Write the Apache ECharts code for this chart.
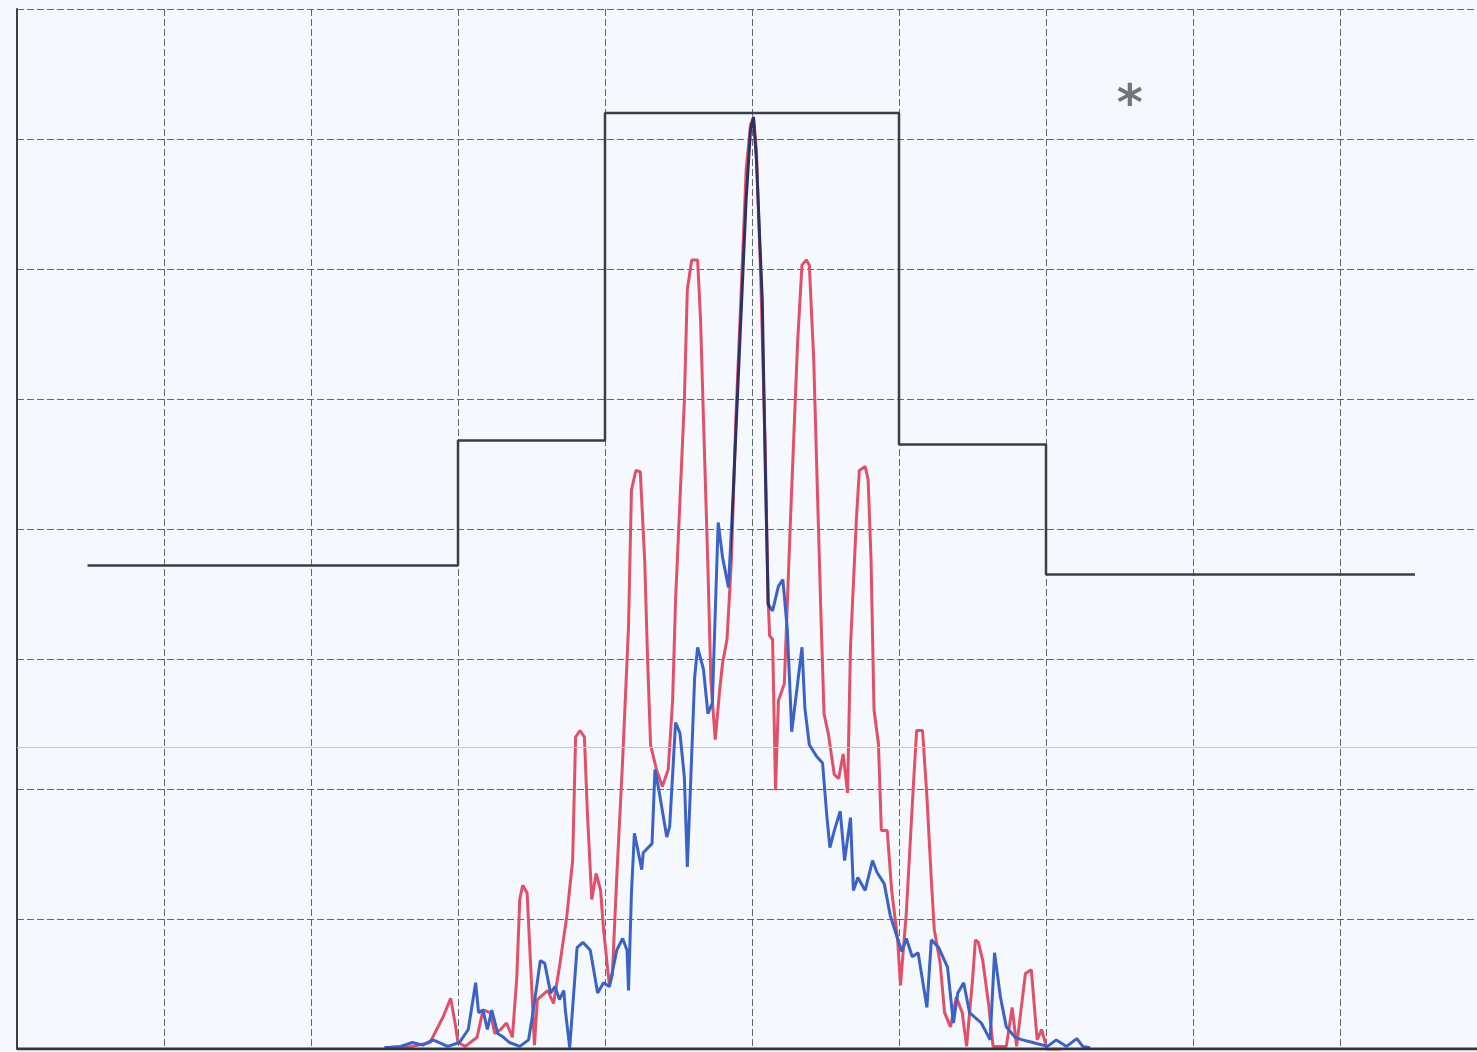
<!DOCTYPE html>
<html>
<head>
<meta charset="utf-8">
<script src="https://cdn.jsdelivr.net/npm/echarts@6/dist/echarts.min.js"></script>
<style>
html,body{margin:0;padding:0;background:#f5f8fc;}
#chart{width:1477px;height:1052px;}
</style>
</head>
<body>
<div id="chart"></div>
<script>
// Frequency offset (MHz, 1 MHz/div) and level (dB, 10 dB/div)
const xTicks = [-5, -4, -3, -2, -1, 0, 1, 2, 3, 4];
const xVisibleMax = 4.932;   // right edge of the photographed screen
const yTicks = [-80, -70, -60, -50, -40, -30, -20, -10, 0];

// Spectrum emission mask (step limit line)
const maskLimit = [[-4.52,-42.8],[-2.0,-42.8],[-2.0,-33.2],[-1.0,-33.2],[-1.0,-8.0],[1.0,-8.0],[1.0,-33.5],[2.0,-33.5],[2.0,-43.5],[4.51,-43.5]];

// Red trace
const redTrace = [[-2.50,-79.9],[-2.31,-79.8],[-2.19,-79.5],[-2.10,-77.5],[-2.05,-76.1],[-2.02,-78.0],[-2.00,-79.5],[-1.95,-79.8],[-1.87,-79.1],[-1.83,-77.0],[-1.78,-77.2],[-1.75,-78.8],[-1.71,-78.5],[-1.67,-78.0],[-1.63,-79.1],[-1.60,-74.5],[-1.58,-68.5],[-1.56,-67.4],[-1.53,-68.0],[-1.50,-74.9],[-1.48,-79.7],[-1.46,-76.2],[-1.39,-75.5],[-1.35,-76.5],[-1.31,-73.7],[-1.26,-69.8],[-1.22,-65.5],[-1.20,-56.0],[-1.17,-55.5],[-1.14,-56.0],[-1.12,-61.8],[-1.09,-68.5],[-1.06,-66.5],[-1.03,-67.8],[-1.01,-70.8],[-0.97,-75.1],[-0.95,-74.3],[-0.92,-66.8],[-0.88,-57.8],[-0.84,-47.5],[-0.82,-37.0],[-0.79,-35.5],[-0.76,-35.6],[-0.73,-42.4],[-0.71,-50.1],[-0.69,-56.6],[-0.65,-58.5],[-0.61,-59.8],[-0.57,-58.5],[-0.54,-53.2],[-0.52,-45.5],[-0.49,-37.8],[-0.46,-30.1],[-0.44,-21.6],[-0.41,-19.3],[-0.37,-19.3],[-0.35,-23.9],[-0.33,-31.6],[-0.30,-42.9],[-0.28,-51.6],[-0.25,-56.2],[-0.22,-52.4],[-0.20,-50.3],[-0.17,-48.5],[-0.14,-42.4],[-0.11,-31.6],[-0.07,-20.8],[-0.04,-12.4],[-0.01,-8.9],[0.01,-8.4],[0.03,-10.8],[0.06,-20.8],[0.09,-33.9],[0.11,-45.5],[0.12,-48.2],[0.14,-48.5],[0.16,-60.1],[0.18,-53.2],[0.22,-51.9],[0.26,-39.8],[0.31,-25.7],[0.34,-19.7],[0.37,-19.3],[0.39,-19.7],[0.42,-27.0],[0.44,-35.1],[0.47,-47.0],[0.49,-54.2],[0.52,-55.8],[0.56,-58.9],[0.59,-59.2],[0.62,-57.3],[0.65,-60.3],[0.67,-49.1],[0.71,-39.3],[0.73,-35.5],[0.77,-35.2],[0.79,-36.2],[0.81,-42.4],[0.83,-53.9],[0.86,-56.5],[0.88,-63.2],[0.92,-63.2],[0.95,-67.8],[0.99,-71.5],[1.01,-75.1],[1.05,-69.5],[1.10,-59.3],[1.12,-55.5],[1.16,-55.5],[1.19,-60.6],[1.22,-67.0],[1.24,-70.8],[1.28,-73.4],[1.31,-77.2],[1.35,-78.3],[1.39,-76.0],[1.43,-77.2],[1.46,-79.8],[1.50,-74.7],[1.52,-71.6],[1.54,-71.8],[1.57,-73.2],[1.61,-76.6],[1.64,-79.8],[1.73,-79.8],[1.77,-76.8],[1.80,-79.8],[1.86,-74.2],[1.90,-73.9],[1.94,-79.3],[1.97,-78.5],[2.01,-80.1],[2.10,-80.1]];

// Blue trace
const blueTrace = [[-2.50,-79.9],[-2.39,-79.8],[-2.31,-79.5],[-2.24,-79.7],[-2.17,-79.3],[-2.07,-79.8],[-1.99,-79.5],[-1.93,-78.5],[-1.88,-74.9],[-1.86,-77.2],[-1.83,-77.0],[-1.80,-78.5],[-1.77,-77.0],[-1.73,-78.8],[-1.69,-79.1],[-1.65,-79.5],[-1.58,-79.8],[-1.52,-79.3],[-1.49,-77.2],[-1.44,-73.2],[-1.41,-73.4],[-1.37,-75.7],[-1.34,-75.2],[-1.31,-76.2],[-1.28,-75.5],[-1.27,-77.0],[-1.24,-79.9],[-1.19,-72.2],[-1.15,-71.8],[-1.10,-72.4],[-1.05,-75.7],[-1.01,-74.9],[-0.97,-75.2],[-0.92,-72.4],[-0.88,-71.5],[-0.85,-72.4],[-0.84,-75.5],[-0.82,-68.0],[-0.80,-63.4],[-0.78,-64.5],[-0.75,-66.2],[-0.74,-64.9],[-0.68,-64.2],[-0.66,-58.5],[-0.63,-60.3],[-0.58,-63.7],[-0.56,-62.9],[-0.52,-54.9],[-0.49,-55.7],[-0.46,-59.1],[-0.44,-66.0],[-0.42,-60.3],[-0.39,-51.4],[-0.37,-49.1],[-0.33,-50.8],[-0.30,-54.2],[-0.27,-53.4],[-0.23,-39.5],[-0.20,-42.2],[-0.16,-44.5],[-0.13,-37.8],[-0.10,-30.1],[-0.08,-24.9],[-0.04,-14.7],[-0.01,-9.3],[0.01,-8.3],[0.03,-11.6],[0.07,-22.4],[0.09,-35.1],[0.11,-45.8],[0.14,-46.3],[0.18,-44.4],[0.21,-43.9],[0.24,-47.7],[0.26,-52.8],[0.27,-55.6],[0.31,-51.9],[0.34,-49.1],[0.36,-53.8],[0.39,-56.6],[0.44,-57.5],[0.48,-58.0],[0.51,-62.2],[0.53,-64.5],[0.56,-63.2],[0.60,-61.7],[0.63,-65.5],[0.67,-62.2],[0.69,-67.8],[0.72,-66.8],[0.77,-67.8],[0.82,-65.5],[0.85,-66.4],[0.90,-67.3],[0.94,-69.7],[0.99,-71.5],[1.02,-72.5],[1.05,-71.5],[1.09,-72.9],[1.13,-72.6],[1.19,-76.8],[1.22,-71.6],[1.27,-72.2],[1.33,-73.7],[1.37,-78.0],[1.40,-75.7],[1.44,-74.9],[1.48,-77.2],[1.56,-78.0],[1.62,-79.3],[1.65,-72.6],[1.69,-76.0],[1.73,-78.3],[1.79,-79.1],[1.84,-79.3],[1.91,-79.5],[2.01,-79.8],[2.07,-79.3],[2.14,-79.8],[2.21,-79.2],[2.25,-79.8],[2.30,-79.9]];

// Faint display line and marker annotation
const displayLine = -56.8;
const markerPoint = [2.57, -6.6];
const markerText = '*';

const chart = echarts.init(document.getElementById('chart'), null, {renderer: 'canvas'});
const gridLine = {show: true, lineStyle: {color: '#4a4d55', width: 1, type: [7, 3], opacity: 0.85}};

chart.setOption({
  backgroundColor: '#f5f8fc',
  animation: false,
  grid: {left: 17, top: 9, right: 0, height: 1040, show: false},
  xAxis: {
    type: 'value', min: xTicks[0], max: xVisibleMax, interval: 1,
    axisLine: {show: false}, axisTick: {show: false}, axisLabel: {show: false},
    splitLine: gridLine
  },
  yAxis: {
    type: 'value', min: yTicks[0], max: yTicks[yTicks.length - 1], interval: 10,
    axisLine: {show: true, onZero: false, lineStyle: {color: '#3c3f48', width: 2}},
    axisTick: {show: false}, axisLabel: {show: false},
    splitLine: gridLine
  },
  visualMap: {
    show: false, type: 'piecewise', seriesIndex: 2, dimension: 0,
    pieces: [{min: -0.14, max: 0.12, color: '#2e3164'}],
    outOfRange: {color: '#3b63c6'}
  },
  series: [
    {
      type: 'line', data: maskLimit, showSymbol: false, silent: true, z: 3,
      lineStyle: {color: '#3a3d4c', width: 2.5},
      markLine: {
        silent: true, symbol: 'none', label: {show: false},
        lineStyle: {color: '#c4c8d0', width: 1, type: 'solid'},
        data: [{yAxis: displayLine}]
      }
    },
    {
      type: 'line', data: redTrace, showSymbol: false, silent: true, z: 4,
      lineStyle: {color: '#e05069', width: 3}
    },
    {
      type: 'line', data: blueTrace, showSymbol: false, silent: true, z: 5,
      lineStyle: {width: 3}
    },
    {
      type: 'scatter', data: [markerPoint], symbolSize: 1, silent: true, z: 6,
      itemStyle: {color: 'rgba(0,0,0,0)'},
      label: {show: true, position: 'inside', formatter: markerText, fontSize: 50,
              fontWeight: 'bold', fontFamily: 'DejaVu Sans', color: '#50535c', offset: [0, 12]}
    },
    {
      type: 'line', data: [[xTicks[0], yTicks[0]], [xVisibleMax, yTicks[0]]], showSymbol: false, silent: true, z: 6,
      lineStyle: {color: '#34363e', width: 3}
    }
  ]
});
</script>
</body>
</html>
